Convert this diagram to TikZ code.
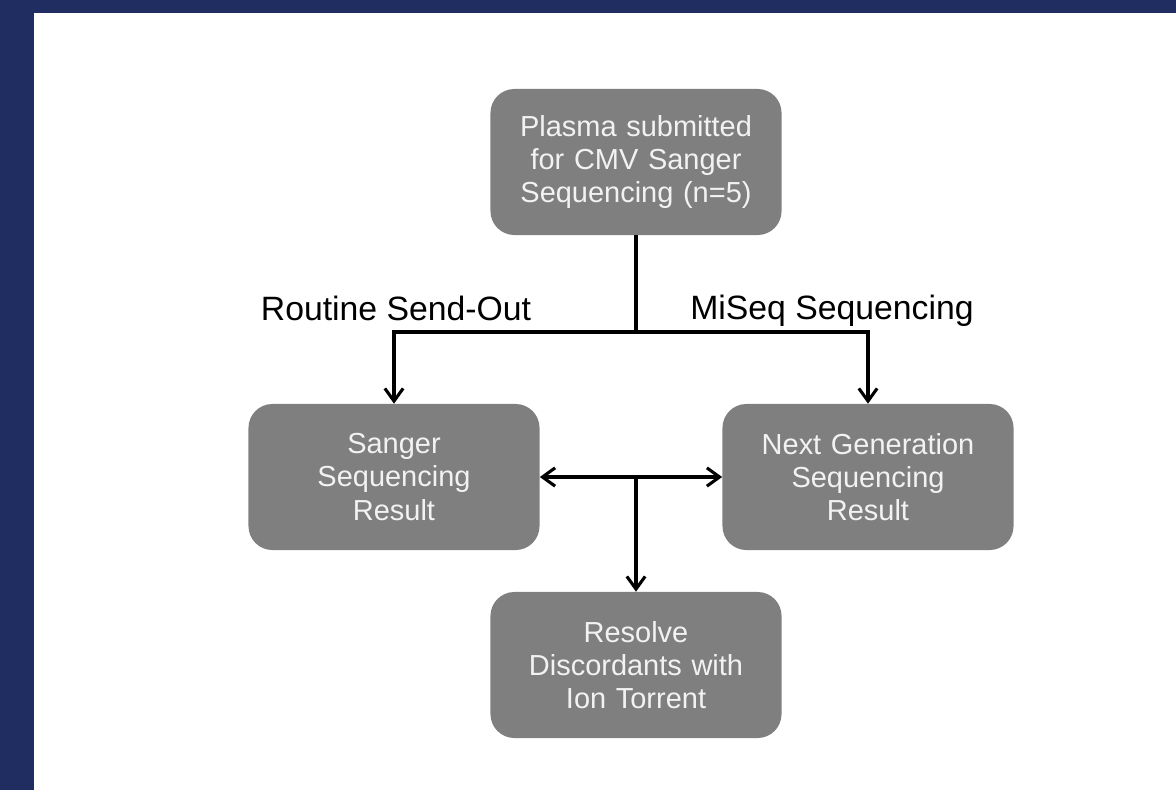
\documentclass[tikz,border=0pt]{standalone}
\usepackage{fontspec}
\setmainfont{Liberation Sans}
\usepackage{tikz}
\usetikzlibrary{arrows.meta,calc}
\definecolor{navy}{HTML}{1F2D60}
\definecolor{boxgray}{HTML}{7F7F7F}
\newcommand{\boxcol}{boxgray}
\newcommand{\txtcol}{white!95!black}

\begin{document}
\begin{tikzpicture}[x=0.025cm, y=-0.025cm,
    stepbox/.style={fill=\boxcol, draw=none, rounded corners=17pt,
        minimum width=7.275cm, minimum height=3.65cm,
        text width=6.8cm, align=center, text=\txtcol,
        font=\fontsize{20.6}{23.6}\selectfont},
    lbl/.style={font=\fontsize{24}{28}\selectfont},
    link/.style={line width=2.2pt},
    >={Straight Barb[length=9pt, width=13pt]}]

        \useasboundingbox (0, 0) rectangle (1176, 790);

        % cadre
        \fill[navy] (0, 0) rectangle (1176, 13);
        \fill[navy] (0, 0) rectangle (34, 790);

        % boites
        \node[stepbox] (plasma) at (636, 162) {Plasma submitted\\for CMV Sanger\\Sequencing (n=5)};
        \node[stepbox] (sanger) at (394, 477) {Sanger\\Sequencing\\Result};
        \node[stepbox] (ngs) at (868, 477) {Next Generation\\Sequencing\\Result};
        \node[stepbox] (resolve) at (636, 665) {Resolve\\Discordants with\\Ion Torrent};

        % etiquettes
        \node[lbl] (routine) at (396, 308) {Routine Send-Out};
        \node[lbl] (miseq) at (832, 311) {MiSeq Sequencing};

        % liens
        \coordinate (split) at (636, 332);
        \draw[link] (plasma.south) -- (split);
        \draw[link, ->] (split) -| (sanger.north);
        \draw[link, ->] (split) -| (ngs.north);
        \draw[link, <->] (sanger.east) -- (ngs.west);
        \draw[link, ->] (resolve.north |- sanger.east) -- (resolve.north);

\end{tikzpicture}
\end{document}
